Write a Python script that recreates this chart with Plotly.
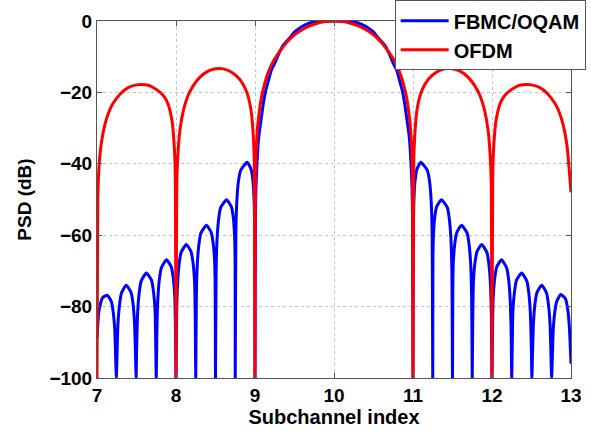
import plotly.graph_objects as go

# ---------------- data ----------------
x_ticks = [7, 8, 9, 10, 11, 12, 13]
y_ticks = [0, -20, -40, -60, -80, -100]

ofdm_x = [
    7.000, 7.010, 7.025, 7.050, 7.100, 7.150, 7.200, 7.300, 7.400, 7.500, 7.550, 7.650, 7.700, 7.800, 7.850, 7.900, 7.950, 7.975, 7.990,
    8.000, 8.010, 8.025, 8.050, 8.100, 8.150, 8.200, 8.300, 8.400, 8.500, 8.550, 8.600, 8.700, 8.800, 8.850, 8.900, 8.950, 8.975, 8.990,
    9.000, 9.005, 9.010, 9.020, 9.040, 9.060, 9.080, 9.100, 9.150, 9.200, 9.250, 9.300, 9.350, 9.400, 9.500, 9.600, 9.700, 9.800, 9.900,
    10.000,
    10.100, 10.200, 10.300, 10.400, 10.500, 10.600, 10.650, 10.700, 10.750, 10.800, 10.850, 10.900, 10.920, 10.940, 10.960, 10.980, 10.990, 10.995,
    11.000, 11.010, 11.025, 11.050, 11.100, 11.150, 11.200, 11.300, 11.400, 11.450, 11.500, 11.600, 11.700, 11.800, 11.850, 11.900, 11.950, 11.975, 11.990,
    12.000, 12.010, 12.025, 12.050, 12.100, 12.150, 12.200, 12.300, 12.350, 12.450, 12.500, 12.600, 12.700, 12.800, 12.850, 12.900, 12.950, 12.975, 13.000,
]
ofdm_db = [
    -100, -50.0, -41.0, -35.0, -29.0, -25.5, -23.2, -20.3, -18.6, -17.9, -17.8, -18.0, -18.5, -20.0, -21.2, -23.3, -28.0, -34.0, -42.0,
    -100, -45.0, -37.0, -30.5, -24.5, -21.0, -18.8, -15.8, -14.1, -13.4, -13.3, -13.4, -14.3, -16.2, -17.8, -20.2, -25.0, -31.0, -39.0,
    -100, -46.0, -40.0, -34.0, -28.0, -24.5, -21.5, -19.5, -15.5, -12.7, -10.6, -8.9, -7.4, -6.0, -3.9, -2.4, -1.3, -0.55, -0.14,
    0.0,
    -0.14, -0.55, -1.3, -2.4, -3.9, -6.0, -7.4, -8.9, -10.6, -12.7, -15.5, -19.5, -21.5, -24.5, -28.0, -34.0, -40.0, -46.0,
    -100, -39.0, -31.0, -25.0, -20.2, -17.8, -16.2, -14.3, -13.4, -13.3, -13.4, -14.1, -15.8, -18.8, -21.0, -24.5, -30.5, -37.0, -45.0,
    -100, -42.0, -34.0, -28.0, -23.3, -21.2, -20.0, -18.5, -18.0, -17.8, -17.9, -18.6, -20.3, -23.2, -25.5, -29.0, -35.0, -41.0, -48.0,
]

fbmc_x = [
    7.000, 7.010, 7.020, 7.040, 7.070, 7.130, 7.180, 7.205, 7.225, 7.237,
    7.245, 7.253, 7.265, 7.285, 7.310, 7.370, 7.430, 7.455, 7.475, 7.487,
    7.495, 7.503, 7.515, 7.535, 7.560, 7.625, 7.690, 7.715, 7.735, 7.743,
    7.750, 7.758, 7.770, 7.790, 7.815, 7.880, 7.940, 7.965, 7.985, 7.993,
    8.000, 8.008, 8.020, 8.040, 8.065, 8.130, 8.190, 8.215, 8.235, 8.243,
    8.250, 8.258, 8.270, 8.290, 8.315, 8.385, 8.445, 8.470, 8.490, 8.496,
    8.500, 8.508, 8.520, 8.540, 8.565, 8.640, 8.700, 8.725, 8.742, 8.748,
    8.750, 8.758, 8.770, 8.790, 8.820, 8.900, 8.950, 8.975, 8.990, 8.996,
    9.000, 9.006, 9.012, 9.025, 9.045, 9.065, 9.090, 9.110, 9.135, 9.160, 9.190, 9.210, 9.255, 9.285,
    9.305, 9.350, 9.400, 9.450, 9.500, 9.550, 9.600, 9.700, 9.800, 9.900,
    10.000,
    10.100, 10.200, 10.300, 10.400, 10.450, 10.500, 10.550, 10.600, 10.650, 10.695,
    10.715, 10.745, 10.790, 10.810, 10.840, 10.865, 10.890, 10.910, 10.935, 10.955, 10.975, 10.988, 10.994,
    11.000, 11.004, 11.010, 11.025, 11.050, 11.100, 11.180, 11.210, 11.230, 11.242,
    11.250, 11.252, 11.258, 11.275, 11.300, 11.360, 11.435, 11.460, 11.480, 11.492,
    11.500, 11.504, 11.510, 11.530, 11.555, 11.615, 11.685, 11.710, 11.730, 11.742,
    11.750, 11.757, 11.765, 11.785, 11.810, 11.870, 11.935, 11.960, 11.980, 11.992,
    12.000, 12.007, 12.015, 12.035, 12.060, 12.120, 12.185, 12.210, 12.230, 12.242,
    12.250, 12.257, 12.265, 12.285, 12.310, 12.375, 12.440, 12.465, 12.485, 12.497,
    12.505, 12.513, 12.525, 12.545, 12.570, 12.630, 12.690, 12.715, 12.735, 12.747,
    12.755, 12.763, 12.775, 12.795, 12.820, 12.870, 12.930, 12.960, 12.980, 13.000,
]
fbmc_db = [
    -89.0, -85.0, -82.0, -79.5, -77.5, -76.8, -78.5, -81.5, -86.5, -95.0,
    -100, -94.0, -85.0, -79.5, -76.2, -74.0, -76.0, -79.0, -84.5, -93.0,
    -100, -90.5, -81.5, -76.0, -72.8, -70.6, -72.6, -75.8, -81.0, -90.0,
    -100, -87.0, -78.0, -72.3, -69.1, -66.9, -68.9, -72.0, -77.5, -86.0,
    -100, -82.5, -73.6, -68.0, -64.8, -62.6, -64.6, -67.6, -73.0, -82.0,
    -100, -77.0, -68.0, -62.6, -59.4, -57.2, -59.2, -62.2, -67.7, -75.0,
    -100, -70.0, -61.0, -55.5, -52.3, -50.1, -52.0, -55.0, -60.5, -68.0,
    -100, -59.5, -50.5, -45.0, -41.8, -39.6, -41.5, -45.0, -51.0, -58.0,
    -100, -55.0, -47.0, -40.0, -33.0, -29.5, -25.5, -22.5, -19.5, -17.5, -15.0, -13.6, -11.6, -10.0,
    -9.0, -7.0, -5.7, -4.5, -3.1, -2.2, -1.5, -0.5, -0.1, 0.0,
    0.0,
    0.0, -0.1, -0.5, -1.5, -2.2, -3.1, -4.5, -5.7, -7.0, -9.0,
    -10.0, -11.6, -13.6, -15.0, -17.5, -19.5, -22.5, -25.5, -29.5, -33.0, -40.0, -47.0, -55.0,
    -100, -58.0, -51.0, -45.0, -41.5, -39.6, -41.8, -45.0, -50.5, -59.5,
    -100, -68.0, -60.5, -55.0, -52.0, -50.1, -52.3, -55.5, -61.0, -70.0,
    -100, -75.0, -67.7, -62.2, -59.2, -57.2, -59.4, -62.6, -68.0, -77.0,
    -100, -82.0, -73.0, -67.6, -64.6, -62.6, -64.8, -68.0, -73.6, -82.5,
    -100, -86.0, -77.5, -72.0, -68.9, -66.9, -69.1, -72.3, -78.0, -87.0,
    -100, -90.0, -81.0, -75.8, -72.6, -70.6, -72.8, -76.0, -81.5, -90.5,
    -100, -93.0, -84.5, -79.0, -76.0, -74.0, -76.2, -79.5, -85.0, -94.0,
    -100, -95.0, -86.5, -81.5, -78.5, -76.6, -77.8, -81.0, -86.0, -96.0,
]

series_names = ["FBMC/OQAM", "OFDM"]
series_colors = ["#0000ff", "#ff0000"]

# ---------------- figure ----------------
FONT = "Liberation Sans, Arial, Helvetica, sans-serif"

fig = go.Figure()
fig.add_trace(go.Scatter(
    x=fbmc_x, y=fbmc_db, mode="lines", name=series_names[0],
    line=dict(color=series_colors[0], width=3, shape="spline", smoothing=0.5),
))
fig.add_trace(go.Scatter(
    x=ofdm_x, y=ofdm_db, mode="lines", name=series_names[1],
    line=dict(color=series_colors[1], width=3, shape="spline", smoothing=0.5),
))

axis_common = dict(
    showline=True, mirror="ticks", linecolor="#555555", linewidth=1,
    ticks="inside", ticklen=5, tickcolor="#555555",
    showgrid=True, gridcolor="#c4c4c4", griddash="dot", gridwidth=1,
    zeroline=False, automargin=False,
    tickfont=dict(family=FONT, size=19, color="black", weight="bold"),
)

fig.update_xaxes(
    range=[7, 13], tickvals=x_ticks, ticktext=[str(v) for v in x_ticks],
    title=dict(text="Subchannel index", font=dict(family=FONT, size=20, color="black", weight="bold"), standoff=0),
    **axis_common,
)
fig.update_yaxes(
    range=[-100, 0], tickvals=y_ticks,
    title=dict(text="PSD (dB)", font=dict(family=FONT, size=19, color="black", weight="bold"), standoff=12),
    **axis_common,
)

fig.update_layout(
    width=591, height=431,
    margin=dict(l=97, r=19.5, t=20.7, b=52.5, autoexpand=False),
    paper_bgcolor="white", plot_bgcolor="white",
    showlegend=True,
    legend=dict(
        x=0.628, y=1.058, xanchor="left", yanchor="top",
        bgcolor="white", bordercolor="#555555", borderwidth=1,
        font=dict(family=FONT, size=20, color="black", weight="bold"),
        tracegroupgap=0, itemwidth=48,
    ),
)

fig.write_html(
    "out.html",
    config={"displayModeBar": False},
    post_script="document.body.style.margin='0';",
)
